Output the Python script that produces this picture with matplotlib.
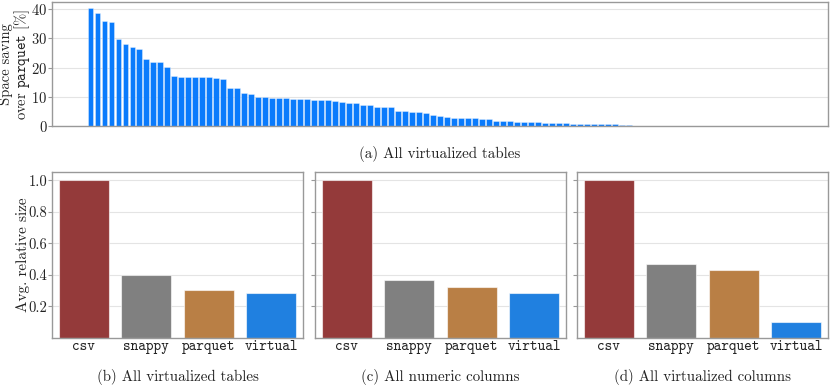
import matplotlib
matplotlib.use('Agg')
import matplotlib.pyplot as plt

plt.rcParams['font.family'] = 'serif'
plt.rcParams['font.serif'] = ['cmr10']
plt.rcParams['mathtext.fontset'] = 'cm'
plt.rcParams['axes.formatter.use_mathtext'] = True
plt.rcParams['axes.unicode_minus'] = False

# Space saving over parquet per table [%], sorted descending
savings = [40.2, 38.7, 35.9, 35.5, 29.7, 28.0, 27.0, 26.4, 23.0, 21.9, 21.8, 20.2,
           17.0, 16.8, 16.8, 16.8, 16.8, 16.8, 16.3, 16.0, 13.1, 13.0, 11.5, 11.1,
           10.1, 9.9, 9.8, 9.6, 9.6, 9.4, 9.4, 9.3, 9.1, 8.9, 8.8, 8.5, 8.3, 8.1,
           7.8, 7.2, 7.2, 6.6, 6.6, 6.6, 5.3, 5.1, 4.9, 4.9, 4.5, 3.8, 3.5, 3.2,
           2.7, 2.7, 2.7, 2.7, 2.5, 2.4, 1.8, 1.7, 1.7, 1.6, 1.5, 1.5, 1.4, 1.25,
           1.1, 1.1, 1.0, 0.9, 0.8, 0.8, 0.8, 0.8, 0.75, 0.7, 0.6, 0.5, 0.25, 0.2,
           0.15, 0.1, 0.05] + [0.0] * 18
table_ids = list(range(len(savings)))

formats = ['csv', 'snappy', 'parquet', 'virtual']
size_tables = [1.0, 0.395, 0.304, 0.285]
size_numeric = [1.0, 0.369, 0.319, 0.285]
size_columns = [1.0, 0.469, 0.429, 0.098]
captions = ['(b) All virtualized tables', '(c) All numeric columns',
            '(d) All virtualized columns']

fmt_colors = ['#943a3a', '#808080', '#b97f45', '#2080e0']
blue = '#0a7bfc'
spine_c = '#999999'
grid_c = '#e4e4e4'
text_c = '#222222'


def style(ax):
    for s in ax.spines.values():
        s.set_color(spine_c)
        s.set_linewidth(1.0)
    ax.grid(axis='y', color=grid_c, linewidth=0.8)
    ax.set_axisbelow(True)
    ax.tick_params(axis='y', colors=spine_c, labelcolor=text_c, labelsize=10.5,
                   length=3, width=0.8, pad=0.5)
    ax.tick_params(axis='x', length=0, labelcolor=text_c)


fig = plt.figure(figsize=(8.31, 3.89), dpi=100)
W, H = 831, 389

# top: all virtualized tables
ax = fig.add_axes([52.3 / W, 1 - 126.3 / H, 775.4 / W, 124 / H])
ax.bar(table_ids, savings, width=0.8, color=blue, edgecolor=(1, 1, 1, 0.5), linewidth=0.5)
style(ax)
ax.set_xticks([])
ax.set_yticks([0, 10, 20, 30, 40])
ax.set_ylabel('Space saving\nover $\\mathtt{parquet}$ [%]', fontsize=10.5, color=text_c,
              linespacing=0.9)
ax.yaxis.set_label_coords((32 - 52.3) / 775.4, 0.5)
fig.text((52.3 + 775.4 / 2) / W, 1 - 154 / H, '(a) All virtualized tables',
         ha='center', va='center', fontsize=10.8, color=text_c)

# bottom: relative sizes
lefts = [52.3, 315.3, 577.3]
for k, vals in enumerate([size_tables, size_numeric, size_columns]):
    a = fig.add_axes([lefts[k] / W, 1 - 337.7 / H, 250.4 / W, 165.4 / H])
    a.bar(formats, vals, width=0.8, color=fmt_colors, edgecolor=(1, 1, 1, 0.6), linewidth=0.8)
    a.set_xlim(-0.5, 3.5)
    a.set_ylim(0, 1.05)
    style(a)
    a.set_yticks([0.2, 0.4, 0.6, 0.8, 1.0])
    a.set_yticklabels(['0.2', '0.4', '0.6', '0.8', '1.0'])
    for lbl in a.get_xticklabels():
        lbl.set_fontfamily('cmtt10')
        lbl.set_fontsize(10.5)
    a.tick_params(axis='x', pad=2)
    if k == 0:
        a.set_ylabel('Avg. relative size', fontsize=11, color=text_c)
        a.yaxis.set_label_coords((30 - 52.3) / 250.4, 0.5)
    else:
        a.tick_params(axis='y', labelleft=False)
    fig.text((lefts[k] + 125.2) / W, 1 - 377 / H, captions[k],
             ha='center', va='center', fontsize=10.8, color=text_c)

fig.savefig('out.png', dpi=100)
